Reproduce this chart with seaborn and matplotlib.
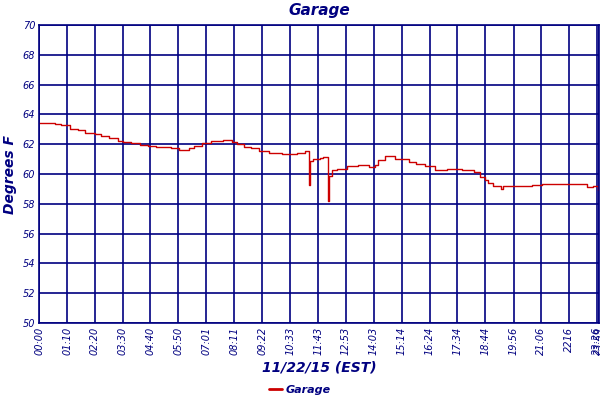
import pandas as pd
import numpy as np
import seaborn as sns
import matplotlib
matplotlib.use("Agg")
import matplotlib.pyplot as plt
from matplotlib.lines import Line2D

# readings (minutes after midnight, deg F)
minutes = [0, 39, 55, 77, 98, 114, 140, 156, 177, 198, 211, 232, 253, 274, 295,
           333, 352, 378, 390, 409, 432, 464, 487, 499, 516, 533, 554, 579, 611,
           649, 671, 680, 683, 691, 708, 716, 727, 731, 737, 751, 775, 804, 832,
           846, 855, 872, 897, 933, 950, 972, 998, 1027, 1065, 1095, 1111, 1124,
           1132, 1145, 1163, 1170, 1212, 1242, 1267, 1382, 1397, 1410, 1412]
temps = [63.42, 63.35, 63.27, 63.04, 62.95, 62.77, 62.68, 62.55, 62.42, 62.24,
         62.18, 62.06, 61.97, 61.88, 61.81, 61.72, 61.63, 61.73, 61.91, 62.07,
         62.22, 62.31, 62.16, 62.00, 61.84, 61.73, 61.55, 61.40, 61.35, 61.44,
         61.53, 59.27, 60.84, 61.02, 61.10, 61.14, 58.17, 59.84, 60.27, 60.36,
         60.54, 60.60, 60.49, 60.63, 60.96, 61.19, 61.03, 60.78, 60.69, 60.51,
         60.29, 60.36, 60.29, 60.11, 59.78, 59.60, 59.42, 59.22, 58.99, 59.19,
         59.22, 59.26, 59.35, 59.10, 59.22, 58.93, 58.93]

tick_labels = ['00:00', '01:10', '02:20', '03:30', '04:40', '05:50', '07:01',
               '08:11', '09:22', '10:33', '11:43', '12:53', '14:03', '15:14',
               '16:24', '17:34', '18:44', '19:56', '21:06', '2216', '23:26', '23:59']
y_ticks = [50, 52, 54, 56, 58, 60, 62, 64, 66, 68, 70]

navy = '#000080'
red = '#CC0000'

df = pd.DataFrame({'minute': minutes, 'temp': temps})

sns.set_style("white")
plt.rcParams['font.family'] = ['DejaVu Sans']

fig = plt.figure(figsize=(6, 4), dpi=100)
ax = fig.add_axes([0.0655, 0.1925, 0.9333, 0.745])

sns.lineplot(data=df, x='minute', y='temp', ax=ax, color=red, linewidth=1.0,
             drawstyle='steps-post', estimator=None, sort=False)

x_end = 1412
tick_pos = []
for lab in tick_labels[:-1]:
    t = lab.replace(':', '')
    tick_pos.append(int(t[:2]) * 60 + int(t[2:]))
tick_pos.append(x_end)

ax.set_xlim(0, x_end)
ax.set_ylim(50, 70)
ax.set_xticks(tick_pos)
ax.set_xticklabels(tick_labels, rotation=90, fontsize=7, style='italic', color=navy)
ax.set_yticks(y_ticks)
ax.set_yticklabels([str(v) for v in y_ticks], fontsize=7, style='italic', color=navy)
ax.tick_params(length=0, pad=3)
ax.grid(True, color=navy, linewidth=1.2)
ax.set_axisbelow(True)
for s in ax.spines.values():
    s.set_color(navy)
    s.set_linewidth(1.2)

ax.set_xlabel('11/22/15 (EST)', fontsize=10, fontweight='bold', style='italic',
              color=navy, labelpad=4)
ax.set_ylabel('Degrees F', fontsize=10, fontweight='bold', style='italic',
              color=navy, labelpad=4)
fig.text(0.532, 0.975, 'Garage', ha='center', va='center', fontsize=11,
         fontweight='bold', style='italic', color=navy)

handle = Line2D([], [], color=red, linewidth=2)
fig.legend([handle], ['Garage'], loc='center', bbox_to_anchor=(0.5, 0.025),
           frameon=False, handlelength=1.2, handletextpad=0.3,
           prop={'size': 8, 'weight': 'bold', 'style': 'italic'},
           labelcolor=navy)

fig.savefig('out.png', dpi=100)
